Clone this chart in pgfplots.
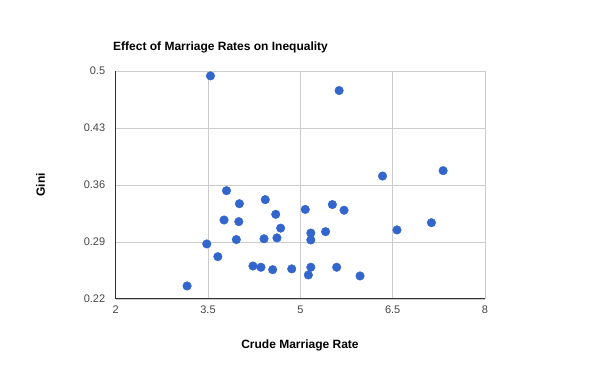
\documentclass[border=0pt]{standalone}
\usepackage{fontspec}
\setmainfont{Liberation Sans}
\usepackage{pgfplots}
\pgfplotsset{compat=1.18}
\definecolor{ptc}{HTML}{3366CC}
\definecolor{gridc}{HTML}{CCCCCC}
\definecolor{axc}{HTML}{333333}
\definecolor{tickc}{HTML}{444444}
\begin{document}
\begin{tikzpicture}[x=1pt,y=1pt]
\path[use as bounding box] (0,0) rectangle (600,371);
\begin{axis}[
  at={(115.7pt,72pt)}, anchor=south west,
  scale only axis, width=369.3pt, height=228pt,
  xmin=2, xmax=8, ymin=0.22, ymax=0.5,
  xtick={2,3.5,5,6.5,8}, xticklabels={2,3.5,5,6.5,8},
  ytick={0.22,0.29,0.36,0.43,0.5}, yticklabels={0.22,0.29,0.36,0.43,0.5},
  grid=major, grid style={gridc, line width=0.8pt},
  axis x line*=bottom, axis y line*=left,
  axis line style={axc, line width=1pt, -},
  major tick length=0pt,
  tick label style={font=\fontsize{11}{13}\selectfont, text=tickc},
  xticklabel style={yshift=-3pt},
  yticklabel style={xshift=-7pt},
  clip=false,
]
\addplot[only marks, mark=*, mark size=4.3pt, color=ptc, mark options={fill=ptc, draw=ptc}] coordinates {
(3.54,0.494) (5.63,0.476)
(3.80,0.353) (4.01,0.337) (4.43,0.342) (4.60,0.324) (3.76,0.317) (4.00,0.315)
(4.68,0.307) (3.96,0.293) (4.41,0.294) (4.62,0.295) (3.48,0.2876) (3.66,0.272)
(4.23,0.2605) (4.36,0.259) (4.55,0.256) (4.86,0.257) (3.16,0.236)
(6.335,0.371) (7.32,0.3776) (5.08,0.330) (5.52,0.336) (5.71,0.329)
(7.13,0.3137) (6.57,0.3048) (5.41,0.3027) (5.17,0.301) (5.17,0.2925)
(5.17,0.259) (5.13,0.2495) (5.59,0.259) (5.97,0.2483)
};
\end{axis}
\node[anchor=base west, font=\bfseries\fontsize{12}{14}\selectfont, inner sep=0pt] at (113,320) {Effect of Marriage Rates on Inequality};
\node[anchor=base, font=\bfseries\fontsize{12}{14}\selectfont, inner sep=0pt] at (300,22) {Crude Marriage Rate};
\node[rotate=90, font=\bfseries\fontsize{12}{14}\selectfont, inner sep=0pt] at (40.7,186) {Gini};
\end{tikzpicture}
\end{document}
